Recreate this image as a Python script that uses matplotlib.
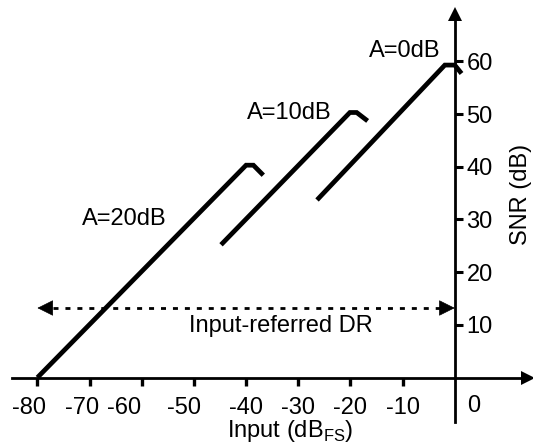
import matplotlib
matplotlib.use("Agg")
import matplotlib.pyplot as plt
from matplotlib.transforms import ScaledTranslation

plt.rcParams['font.family'] = ['Liberation Sans', 'DejaVu Sans']
plt.rcParams['axes.unicode_minus'] = False
plt.rcParams['mathtext.fontset'] = 'custom'
plt.rcParams['mathtext.rm'] = 'Liberation Sans'

# SNR curves for each attenuation setting (input dBFS, SNR dB)
a20_x = [-80, -40, -38.6, -36.7]
a20_y = [0, 40.3, 40.3, 38.4]
a10_x = [-44.8, -20.1, -18.8, -16.7]
a10_y = [25.2, 50.3, 50.3, 48.7]
a0_x = [-26.4, -1.9, 0.0, 1.3]
a0_y = [33.7, 59.3, 59.3, 57.7]

x_ticks = [-80, -70, -60, -50, -40, -30, -20, -10]
y_ticks = [10, 20, 30, 40, 50, 60]
# the hand-placed x labels in the original sit a bit left of some ticks (points)
x_label_nudge = [-6, -5.5, -12.5, -7, 0, 0, 0, 0]

dr_y = 13.2
dr_from, dr_to = -80, 0

fs = 17
fig = plt.figure(figsize=(5.33, 4.45), dpi=100)
ax = fig.add_axes([0, 0, 1, 1])
ax.set_xlim(-87.17, 15.0)
ax.set_ylim(-12.8, 71.65)
ax.patch.set_alpha(0)

# axes through the origin
ax.spines['left'].set_visible(False)
ax.spines['top'].set_visible(False)
ax.spines['bottom'].set_position(('data', 0))
ax.spines['bottom'].set_bounds(-84.9, 13.5)
ax.spines['right'].set_position(('data', 0))
ax.spines['right'].set_bounds(-8.4, 68)
ax.spines['bottom'].set_linewidth(2)
ax.spines['right'].set_linewidth(2)
ax.yaxis.tick_right()
ax.plot(14.0, 0, '>', color='black', markersize=10, markeredgewidth=0, clip_on=False)
ax.plot(0, 69.0, '^', color='black', markersize=10, markeredgewidth=0, clip_on=False)

ax.set_xticks(x_ticks)
ax.set_xticklabels([str(v) for v in x_ticks])
ax.set_yticks(y_ticks)
ax.set_yticklabels([str(v) for v in y_ticks])
ax.tick_params(axis='x', direction='out', length=6, width=2.4, pad=8, labelsize=fs)
ax.tick_params(axis='y', direction='out', length=5.4, width=2.2, pad=3, labelsize=fs)
for lab, dx in zip(ax.get_xticklabels(), x_label_nudge):
    lab.set_transform(lab.get_transform() + ScaledTranslation(dx / 72, 0, fig.dpi_scale_trans))
ax.text(2.3, -5.45, '0', fontsize=fs, ha='left', va='center')

# curves
for xs, ys in [(a20_x, a20_y), (a10_x, a10_y), (a0_x, a0_y)]:
    ax.plot(xs, ys, color='black', lw=3.4, solid_capstyle='butt', solid_joinstyle='miter')

ax.text(-63.4, 30.0, 'A=20dB', fontsize=fs, ha='center', va='center')
ax.text(-31.7, 50.3, 'A=10dB', fontsize=fs, ha='center', va='center')
ax.text(-9.6, 61.9, 'A=0dB', fontsize=fs, ha='center', va='center')

# dynamic range arrow: dashed shaft with solid heads
head = 2.9
ax.plot([dr_from + head, dr_to - head], [dr_y, dr_y], color='black', lw=2,
        ls=(0, (1.8, 2.5)), dash_capstyle='butt')
for tip, tail in [(dr_from, dr_from + head), (dr_to, dr_to - head)]:
    ax.annotate('', xy=(tip, dr_y), xytext=(tail, dr_y),
                arrowprops=dict(arrowstyle='-|>', color='black', lw=0.5,
                                mutation_scale=26, shrinkA=0, shrinkB=0))
ax.text(-33.4, 9.7, 'Input-referred DR', fontsize=fs, ha='center', va='center')

ax.text(12.7, 34.8, 'SNR (dB)', fontsize=fs, rotation=90, ha='center', va='center')
ax.text(-31.5, -11.3, 'Input (dB$_{\\mathrm{FS}}$)', fontsize=fs, ha='center', va='baseline')

fig.savefig('out.png', dpi=100)
